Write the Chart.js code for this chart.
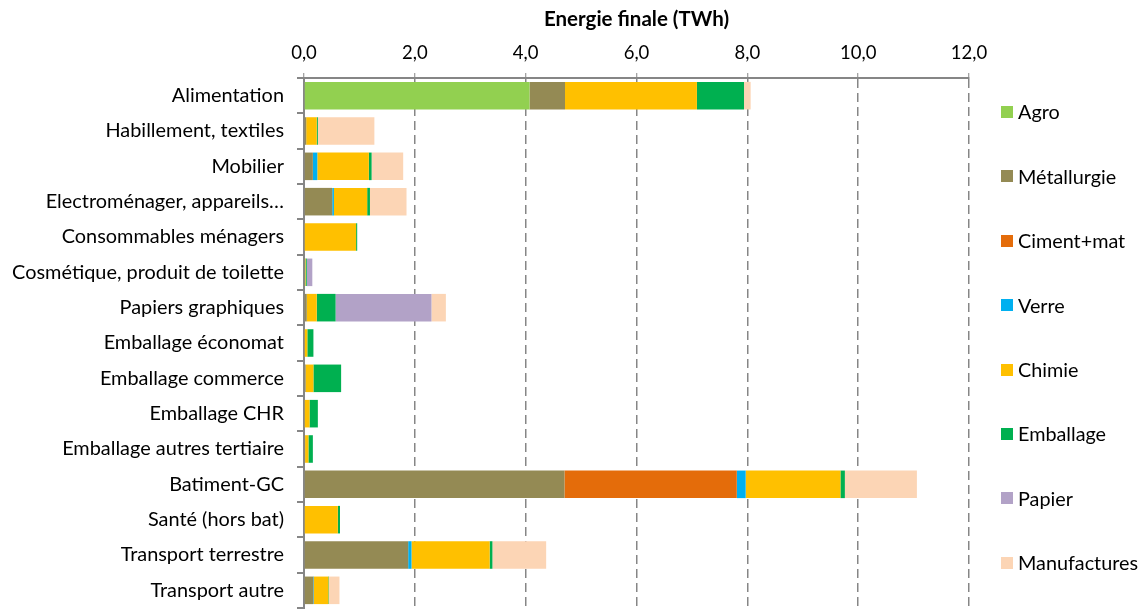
<!DOCTYPE html>
<html>
<head>
<meta charset="utf-8">
<script src="https://cdn.jsdelivr.net/npm/chart.js@4.4.0/dist/chart.umd.min.js"></script>
<style>
  html, body { margin: 0; padding: 0; background: #fff; }
  #wrap { width: 1146px; height: 610px; position: relative; }
</style>
</head>
<body>
<div id="wrap"><canvas id="chartEnergie"></canvas></div>
<script>
// categories (usages)
const categories = [
  "Alimentation",
  "Habillement, textiles",
  "Mobilier",
  "Electroménager, appareils…",
  "Consommables ménagers",
  "Cosmétique, produit de toilette",
  "Papiers graphiques",
  "Emballage économat",
  "Emballage commerce",
  "Emballage CHR",
  "Emballage autres tertiaire",
  "Batiment-GC",
  "Santé (hors bat)",
  "Transport terrestre",
  "Transport autre"
];

// energie finale par secteur (TWh)
const agro        = [4.07, 0, 0, 0, 0, 0, 0, 0, 0, 0, 0, 0, 0, 0, 0];
const metallurgie = [0.64, 0.04, 0.16, 0.51, 0, 0.02, 0.05, 0, 0.03, 0, 0.02, 4.70, 0, 1.88, 0.17];
const cimentMat   = [0, 0, 0, 0, 0, 0, 0, 0, 0, 0, 0, 3.11, 0, 0, 0];
const verre       = [0, 0, 0.08, 0.03, 0, 0, 0, 0, 0, 0, 0, 0.16, 0, 0.06, 0.01];
const chimie      = [2.38, 0.19, 0.93, 0.60, 0.94, 0.01, 0.18, 0.06, 0.14, 0.10, 0.06, 1.71, 0.61, 1.41, 0.26];
const emballage   = [0.85, 0.02, 0.05, 0.05, 0.02, 0.02, 0.34, 0.11, 0.50, 0.15, 0.08, 0.08, 0.04, 0.05, 0.01];
const papier      = [0, 0, 0, 0, 0, 0.10, 1.73, 0, 0, 0, 0, 0, 0, 0, 0];
const manufactures= [0.12, 1.02, 0.57, 0.66, 0, 0, 0.26, 0, 0, 0, 0, 1.30, 0, 0.97, 0.19];

const xTicks = [0, 2, 4, 6, 8, 10, 12];

const FONT = "Lato, 'Open Sans', sans-serif";
const GRIS = "#868686";

// legende dessinee a droite (comme dans Excel)
const legendeDroite = {
  id: "legendeDroite",
  afterDraw(chart) {
    const ctx = chart.ctx;
    ctx.save();
    ctx.font = "19.8px " + FONT;
    ctx.textBaseline = "middle";
    ctx.textAlign = "left";
    chart.data.datasets.forEach((ds, i) => {
      const y = 112 + i * 64.4;
      ctx.fillStyle = ds.backgroundColor;
      ctx.fillRect(1001, Math.round(y - 6), 12, 12);
      ctx.fillStyle = "#000";
      ctx.fillText(ds.label, 1018, y + 1);
    });
    ctx.restore();
  }
};

const ctx_energie = document.getElementById("chartEnergie");

const myChart = new Chart(ctx_energie, {
  type: "bar",
  data: {
    labels: categories,
    datasets: [
      { label: "Agro", data: agro, backgroundColor: "#92D050" },
      { label: "Métallurgie", data: metallurgie, backgroundColor: "#948A54" },
      { label: "Ciment+mat", data: cimentMat, backgroundColor: "#E46C0A" },
      { label: "Verre", data: verre, backgroundColor: "#00B0F0" },
      { label: "Chimie", data: chimie, backgroundColor: "#FFC000" },
      { label: "Emballage", data: emballage, backgroundColor: "#00B050" },
      { label: "Papier", data: papier, backgroundColor: "#B2A2C7" },
      { label: "Manufactures", data: manufactures, backgroundColor: "#FCD5B5" },
    ],
  },
  options: {
    indexAxis: "y",
    responsive: true,
    maintainAspectRatio: false,
    animation: false,
    layout: { padding: { top: 0, right: 177, bottom: 2, left: 0 } },
    datasets: {
      bar: { categoryPercentage: 0.78, barPercentage: 1.0, borderWidth: 0 }
    },
    plugins: {
      legend: { display: false },
      tooltip: { enabled: false },
    },
    scales: {
      x: {
        position: "top",
        stacked: true,
        min: 0,
        max: 12,
        afterBuildTicks: (axis) => { axis.ticks = xTicks.map(v => ({ value: v })); },
        afterFit: (axis) => { axis.height = 78; },
        title: {
          display: true,
          text: "Energie finale (TWh)",
          color: "#000",
          font: { family: FONT, size: 20.5, weight: "bold" },
          padding: { top: 7, bottom: 0 },
        },
        ticks: {
          color: "#000",
          font: { family: FONT, size: 18.5 },
          padding: 9,
          maxRotation: 0,
          callback: (v) => Number(v).toFixed(1).replace(".", ","),
        },
        grid: {
          color: (c) => (c.index === 0 ? "rgba(0,0,0,0)" : GRIS),
          lineWidth: 1.5,
          tickColor: GRIS,
          tickLength: 5,
          tickWidth: 1,
        },
        border: { display: true, color: GRIS, width: 2, dash: [9, 5] },
      },
      y: {
        stacked: true,
        afterFit: (axis) => {
          axis.width = 304;
          axis.paddingTop = 0;
          axis.paddingBottom = 0;
        },
        ticks: {
          color: "#000",
          font: { family: FONT, size: 19.9 },
          padding: 13,
          autoSkip: false,
        },
        grid: {
          drawOnChartArea: false,
          offset: true,
          color: GRIS,
          tickColor: GRIS,
          tickLength: 7,
          lineWidth: 2,
        },
        border: { display: true, color: GRIS, width: 2 },
      },
    },
  },
  plugins: [legendeDroite],
});
</script>
</body>
</html>
